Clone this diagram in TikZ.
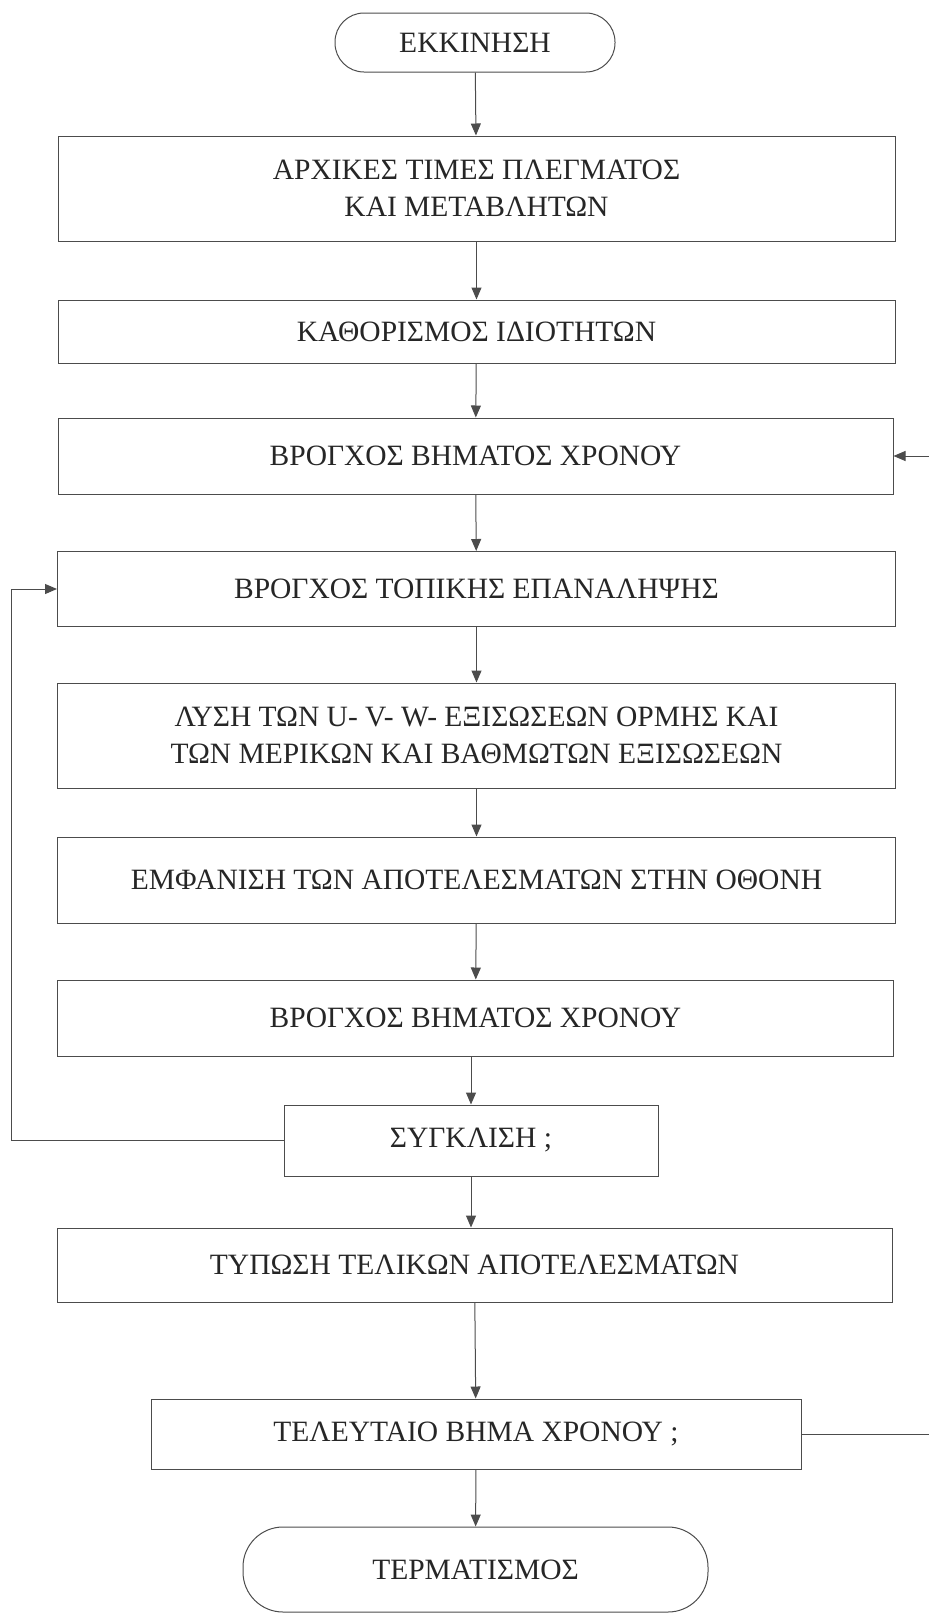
\documentclass[tikz,border=0pt]{standalone}
\usepackage{fontspec}
\setmainfont{Liberation Serif}
\usetikzlibrary{arrows.meta}
\tikzset{
  proc/.style={draw=black!70, line width=1pt, rectangle, align=center, inner sep=0pt, text=black!85},
  term/.style={proc, rounded corners=#1},
  flow/.style={draw=black!70, line width=1pt, -{Triangle[length=12pt,width=10pt]}},
  link/.style={draw=black!70, line width=1pt}
}
\begin{document}
\begin{tikzpicture}[x=1pt,y=-1pt,font=\fontsize{29.5}{37}\selectfont]
        \useasboundingbox (0,0) rectangle (929,1615);
        \node[term=29pt, minimum width=280pt, minimum height=59pt] (start) at (475,42.5) {ΕΚΚΙΝΗΣΗ};
        \node[proc, minimum width=837pt, minimum height=105pt] (init) at (476.5,188.5) {ΑΡΧΙΚΕΣ ΤΙΜΕΣ ΠΛΕΓΜΑΤΟΣ\\ΚΑΙ ΜΕΤΑΒΛΗΤΩΝ};
        \node[proc, minimum width=837pt, minimum height=63pt] (props) at (476.5,331.5) {ΚΑΘΟΡΙΣΜΟΣ ΙΔΙΟΤΗΤΩΝ};
        \node[proc, minimum width=835pt, minimum height=76pt] (tloop) at (475.5,456) {ΒΡΟΓΧΟΣ ΒΗΜΑΤΟΣ ΧΡΟΝΟΥ};
        \node[proc, minimum width=838pt, minimum height=75pt] (iter) at (476.5,589) {ΒΡΟΓΧΟΣ ΤΟΠΙΚΗΣ ΕΠΑΝΑΛΗΨΗΣ};
        \node[proc, minimum width=838pt, minimum height=105pt] (solve) at (476.5,735.5) {ΛΥΣΗ ΤΩΝ U- V- W- ΕΞΙΣΩΣΕΩΝ ΟΡΜΗΣ ΚΑΙ\\ΤΩΝ ΜΕΡΙΚΩΝ ΚΑΙ ΒΑΘΜΩΤΩΝ ΕΞΙΣΩΣΕΩΝ};
        \node[proc, minimum width=838pt, minimum height=86pt] (show) at (476.5,880) {ΕΜΦΑΝΙΣΗ ΤΩΝ ΑΠΟΤΕΛΕΣΜΑΤΩΝ ΣΤΗΝ ΟΘΟΝΗ};
        \node[proc, minimum width=836pt, minimum height=76pt] (tloopb) at (475.5,1018) {ΒΡΟΓΧΟΣ ΒΗΜΑΤΟΣ ΧΡΟΝΟΥ};
        \node[proc, minimum width=374pt, minimum height=71pt] (conv) at (471,1140.5) {ΣΥΓΚΛΙΣΗ ;};
        \node[proc, minimum width=835pt, minimum height=74pt] (print) at (474.5,1265) {ΤΥΠΩΣΗ ΤΕΛΙΚΩΝ ΑΠΟΤΕΛΕΣΜΑΤΩΝ};
        \node[proc, minimum width=650pt, minimum height=70pt] (last) at (476,1434) {ΤΕΛΕΥΤΑΙΟ ΒΗΜΑ ΧΡΟΝΟΥ ;};
        \node[term=40pt, minimum width=465pt, minimum height=85pt] (stop) at (475.5,1569.5) {ΤΕΡΜΑΤΙΣΜΟΣ};
        % main flow
        \draw[flow] (start) -- (init);
        \draw[flow] (init) -- (props);
        \draw[flow] (props) -- (tloop);
        \draw[flow] (tloop) -- (iter);
        \draw[flow] (iter) -- (solve);
        \draw[flow] (solve) -- (show);
        \draw[flow] (show) -- (tloopb);
        \draw[flow] (tloopb.south -| conv) -- (conv.north);
        \draw[flow] (conv.south) -- (conv.south |- print.north);
        \draw[flow] (print) -- (last);
        \draw[flow] (last) -- (stop);
        % loops
        \coordinate (lx) at (11,0);
        \coordinate (rx) at (929,0);
        \draw[flow] (conv.west) -- (conv.west -| lx) |- (iter.west);
        \draw[link] (last.east) -- (last.east -| rx);
        \draw[flow] (tloop.east -| rx) -- (tloop.east);
\end{tikzpicture}
\end{document}
